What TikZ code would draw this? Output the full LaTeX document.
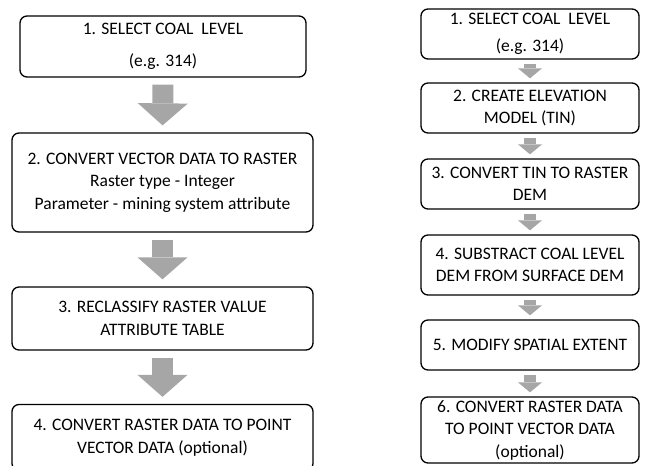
\documentclass[tikz,border=0pt]{standalone}
\usepackage{fontspec}
\setmainfont{Carlito}
\usepackage{xcolor}
\usetikzlibrary{arrows.meta}
\definecolor{arrowgray}{HTML}{A6A6A6}

\tikzset{
  stepbox/.style={draw,rectangle,rounded corners=7pt,line width=1.3pt,
    align=center,inner sep=0pt,font=\fontsize{17.5}{22.5}\selectfont},
  bigarrow/.style={draw=arrowgray,line width=21pt,
    -{Triangle[length=22pt,width=50pt,line width=0pt]},
    shorten <=7pt,shorten >=7pt},
  smallarrow/.style={draw=arrowgray,line width=12pt,
    -{Triangle[length=10pt,width=24pt,line width=0pt]},
    shorten <=4pt,shorten >=4pt}
}

\begin{document}
\begin{tikzpicture}[x=1pt,y=-1pt]
  \useasboundingbox (0,0) rectangle (651,466);
  % left chain
  \node[stepbox,minimum width=286pt,minimum height=61pt] (l1) at (163,46.5)
    {1. SELECT COAL\ \ LEVEL\\[9pt](e.g. 314)};
  \node[stepbox,minimum width=301pt,minimum height=99pt] (l2) at (162.5,182.5)
    {2. CONVERT VECTOR DATA TO RASTER\\Raster type - Integer\\Parameter - mining system attribute};
  \node[stepbox,minimum width=301pt,minimum height=63pt] (l3) at (162.5,318.5)
    {3. RECLASSIFY RASTER VALUE\\ATTRIBUTE TABLE};
  \node[stepbox,minimum width=301pt,minimum height=66pt] (l4) at (162.5,437.5)
    {4. CONVERT RASTER DATA TO POINT\\VECTOR DATA (optional)};
  \draw[bigarrow] (l1.south) -- (l2.north);
  \draw[bigarrow] (l2.south) -- (l3.north);
  \draw[bigarrow] (l3.south) -- (l4.north);
  % right chain
  \node[stepbox,minimum width=218pt,minimum height=50pt] (r1) at (530,34)
    {1. SELECT COAL\ \ LEVEL\\[4pt](e.g. 314)};
  \node[stepbox,minimum width=218pt,minimum height=50pt] (r2) at (530,108)
    {2. CREATE ELEVATION\\MODEL (TIN)};
  \node[stepbox,minimum width=218pt,minimum height=50pt] (r3) at (530,184)
    {3. CONVERT TIN TO RASTER\\DEM};
  \node[stepbox,minimum width=218pt,minimum height=60pt] (r4) at (530,265)
    {4. SUBSTRACT COAL LEVEL\\DEM FROM SURFACE DEM};
  \node[stepbox,minimum width=218pt,minimum height=50pt] (r5) at (530,345)
    {5. MODIFY SPATIAL EXTENT};
  \node[stepbox,minimum width=218pt,minimum height=66pt] (r6) at (530,430)
    {6. CONVERT RASTER DATA\\TO POINT VECTOR DATA\\(optional)};
  \foreach \a/\b in {r1/r2,r2/r3,r3/r4,r4/r5,r5/r6}
    \draw[smallarrow] (\a.south) -- (\b.north);
\end{tikzpicture}
\end{document}
